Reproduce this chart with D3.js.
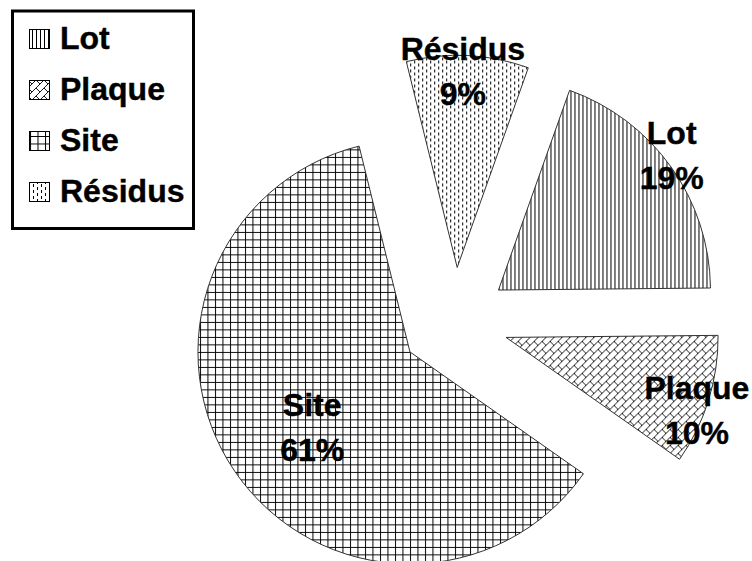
<!DOCTYPE html>
<html>
<head>
<meta charset="utf-8">
<script src="https://cdn.jsdelivr.net/npm/d3@7"></script>
<style>
  html, body { margin: 0; padding: 0; background: #fff; }
  svg { display: block; }
  text { font-family: "Liberation Sans", Arial, sans-serif; font-weight: bold; fill: #000; stroke: #000; stroke-width: 0.4px; }
</style>
</head>
<body>
<svg id="chart" width="752" height="561"></svg>
<script>
// ---- data ----
const categories = ["Lot", "Plaque", "Site", "Résidus"];
const values = [19.4, 9.9, 61.4, 9.3];
const patternIds = ["pLot", "pPlaque", "pSite", "pResidus"];

// ---- layout ----
const W = 752, H = 561;
const cx = 454.5, cy = 321.4, R = 212, explode = 54;
const startDeg = 19.6;
const fontSize = 32, lineGap = 45;
// label placement: distance from slice apex (fraction of R) and angular nudge (deg)
const labelDist = [1.035, 0.964, 0.583, 0.923];
const labelNudge = [-2.4, 3.7, -3.3, -1.2];

const svg = d3.select("#chart");
svg.append("rect").attr("width", W).attr("height", H).attr("fill", "#fff");

// ---- patterns ----
const defs = svg.append("defs");
// vertical lines
const pLot = defs.append("pattern").attr("id", "pLot").attr("patternUnits", "userSpaceOnUse")
  .attr("width", 4).attr("height", 4);
pLot.append("rect").attr("width", 4).attr("height", 4).attr("fill", "#fff");
pLot.append("line").attr("x1", 0.5).attr("x2", 0.5).attr("y1", 0).attr("y2", 4)
  .attr("stroke", "#000").attr("stroke-width", 1);
// diagonal brick
const pPl = defs.append("pattern").attr("id", "pPlaque").attr("patternUnits", "userSpaceOnUse")
  .attr("width", 8).attr("height", 8);
pPl.append("rect").attr("width", 8).attr("height", 8).attr("fill", "#fff");
pPl.append("path").attr("d", "M-1,9 L9,-1 M4,4 L8,8 M-4,4 L0,8")
  .attr("stroke", "#000").attr("stroke-width", 0.9).attr("fill", "none");
// grid
const pSi = defs.append("pattern").attr("id", "pSite").attr("patternUnits", "userSpaceOnUse")
  .attr("width", 7.5).attr("height", 7.5);
pSi.append("rect").attr("width", 7.5).attr("height", 7.5).attr("fill", "#fff");
pSi.append("path").attr("d", "M0.5,0 V7.5 M0,0.5 H7.5")
  .attr("stroke", "#000").attr("stroke-width", 1).attr("fill", "none");
// dotted (short vertical dashes, staggered)
const pRe = defs.append("pattern").attr("id", "pResidus").attr("patternUnits", "userSpaceOnUse")
  .attr("width", 8).attr("height", 6);
pRe.append("rect").attr("width", 8).attr("height", 6).attr("fill", "#fff");
pRe.append("path").attr("d", "M1.5,0 V3 M5.5,3 V6")
  .attr("stroke", "#000").attr("stroke-width", 1).attr("fill", "none");

// ---- pie ----
const toRad = d => d * Math.PI / 180;
const pie = d3.pie().sort(null).value(d => d)
  .startAngle(toRad(startDeg)).endAngle(toRad(startDeg) + 2 * Math.PI);
const arcs = pie(values);
const arc = d3.arc().innerRadius(0).outerRadius(R);
const total = d3.sum(values);

const g = svg.append("g").attr("transform", `translate(${cx},${cy})`);
const slices = g.selectAll("g.slice").data(arcs).enter().append("g")
  .attr("class", "slice")
  .attr("transform", d => {
    const m = (d.startAngle + d.endAngle) / 2;
    return `translate(${explode * Math.sin(m)},${-explode * Math.cos(m)})`;
  });
slices.append("path")
  .attr("d", arc)
  .attr("fill", (d, i) => `url(#${patternIds[i]})`)
  .attr("stroke", "#333").attr("stroke-width", 1);

// labels
slices.each(function(d, i) {
  const m = (d.startAngle + d.endAngle) / 2 + toRad(labelNudge[i]);
  const r = labelDist[i] * R;
  const x = r * Math.sin(m), y = -r * Math.cos(m);
  const t = d3.select(this).append("text")
    .attr("text-anchor", "middle")
    .attr("font-size", fontSize)
    .attr("x", x).attr("y", y);
  t.append("tspan").attr("x", x).attr("y", y - lineGap / 2 + 11).text(categories[i]);
  t.append("tspan").attr("x", x).attr("y", y + lineGap / 2 + 11)
    .text(Math.round(d.data / total * 100) + "%");
});

// ---- legend ----
const leg = svg.append("g");
leg.append("rect").attr("x", 12.5).attr("y", 11).attr("width", 181).attr("height", 217.5)
  .attr("fill", "#fff").attr("stroke", "#000").attr("stroke-width", 3);
const rowY = d3.scalePoint().domain(categories).range([49, 202]);
const rows = leg.selectAll("g.row").data(categories).enter().append("g")
  .attr("transform", d => `translate(0,${rowY(d)})`);
rows.append("rect").attr("x", 29.5).attr("y", -19.5).attr("width", 20).attr("height", 19)
  .attr("fill", (d, i) => `url(#${patternIds[i]})`)
  .attr("stroke", "#000").attr("stroke-width", 1);
rows.append("text").attr("x", 60).attr("y", 0).attr("font-size", fontSize).text(d => d);
</script>
</body>
</html>
